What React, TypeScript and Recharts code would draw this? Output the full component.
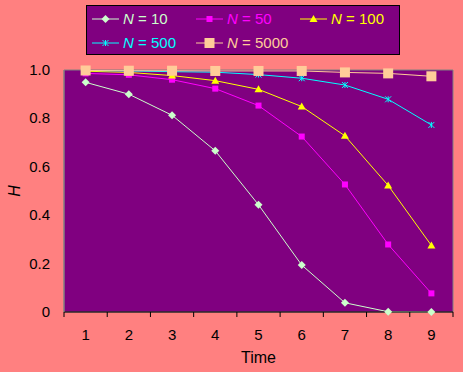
import React from 'react';
import { LineChart, Line, XAxis, YAxis, CartesianGrid, ReferenceArea, Legend } from 'recharts';

const times = [1, 2, 3, 4, 5, 6, 7, 8, 9];
const n10 = [0.949, 0.9, 0.813, 0.666, 0.443, 0.194, 0.038, 0.001, 0.0];
const n50 = [0.986, 0.98, 0.96, 0.923, 0.853, 0.725, 0.527, 0.279, 0.077];
const n100 = [0.995, 0.99, 0.977, 0.956, 0.92, 0.849, 0.728, 0.523, 0.275];
const n500 = [0.998, 0.996, 0.993, 0.991, 0.981, 0.966, 0.938, 0.879, 0.773];
const n5000 = [0.998, 0.997, 0.997, 0.996, 0.996, 0.996, 0.99, 0.986, 0.974];
const yTicks = [0, 0.2, 0.4, 0.6, 0.8, 1.0];
const xTicks = [0.5, 1, 1.5, 2, 2.5, 3, 3.5, 4, 4.5, 5, 5.5, 6, 6.5, 7, 7.5, 8, 8.5, 9, 9.5];

const series = [
  { key: 'n10', label: '10', color: '#CCFFCC', shape: 'diamond' },
  { key: 'n50', label: '50', color: '#FF00FF', shape: 'square' },
  { key: 'n100', label: '100', color: '#FFFF00', shape: 'triangle' },
  { key: 'n500', label: '500', color: '#00FFFF', shape: 'star' },
  { key: 'n5000', label: '5000', color: '#FFCC99', shape: 'bigsquare' },
];

const data = times.map((t, i) => ({
  t,
  n10: n10[i],
  n50: n50[i],
  n100: n100[i],
  n500: n500[i],
  n5000: n5000[i],
}));

const FONT = '"Liberation Sans", Arial, sans-serif';

function Marker({ shape, cx, cy, color }: { shape: string; cx: number; cy: number; color: string }) {
  if (shape === 'diamond') {
    return <polygon points={`${cx},${cy - 4} ${cx + 4},${cy} ${cx},${cy + 4} ${cx - 4},${cy}`} fill={color} />;
  }
  if (shape === 'square') {
    return <rect x={cx - 3} y={cy - 3} width={6} height={6} fill={color} />;
  }
  if (shape === 'triangle') {
    return <polygon points={`${cx},${cy - 4} ${cx + 4},${cy + 3} ${cx - 4},${cy + 3}`} fill={color} />;
  }
  if (shape === 'star') {
    return (
      <g stroke={color} strokeWidth={1}>
        <line x1={cx - 3} y1={cy - 3} x2={cx + 3} y2={cy + 3} />
        <line x1={cx - 3} y1={cy + 3} x2={cx + 3} y2={cy - 3} />
        <line x1={cx} y1={cy - 3} x2={cx} y2={cy + 3} />
      </g>
    );
  }
  return <rect x={cx - 5} y={cy - 5} width={10} height={10} fill={color} />;
}

const XTick = (props: any) => {
  const { x, y, payload } = props;
  const v = payload.value;
  if (Number.isInteger(v)) {
    return (
      <text x={x} y={y + 28} textAnchor="middle" fill="#000" fontSize={15} fontFamily={FONT}>
        {v}
      </text>
    );
  }
  return <line x1={x} y1={y} x2={x} y2={y + 5} stroke="#000" strokeWidth={1} />;
};

const YTick = (props: any) => {
  const { x, y, payload } = props;
  const v = payload.value;
  return (
    <text x={x - 14} y={y + 5} textAnchor="end" fill="#000" fontSize={15} fontFamily={FONT}>
      {v === 0 ? '0' : v.toFixed(1)}
    </text>
  );
};

const renderLegend = () => (
  <div
    style={{
      width: 314,
      height: 50,
      background: '#800080',
      border: '1px solid #000',
      boxSizing: 'border-box',
      position: 'relative',
      fontFamily: FONT,
      fontSize: 15,
    }}
  >
    {series.map((s, i) => {
      const col = i % 3;
      const row = Math.floor(i / 3);
      return (
        <div
          key={s.key}
          style={{
            position: 'absolute',
            left: [5, 109, 213][col],
            top: 5 + row * 24,
            height: 16,
            display: 'flex',
            alignItems: 'center',
            whiteSpace: 'nowrap',
            color: s.color,
          }}
        >
          <svg width={27} height={16} style={{ display: 'block' }}>
            <line x1={0} y1={8} x2={27} y2={8} stroke={s.color} strokeWidth={1} />
            <Marker shape={s.shape} cx={13.5} cy={8} color={s.color} />
          </svg>
          <span style={{ marginLeft: 4, lineHeight: '16px' }}>
            <i>N</i> = {s.label}
          </span>
        </div>
      );
    })}
  </div>
);

export default function App() {
  return (
    <div style={{ position: 'absolute', left: 0, top: 0, width: 463, height: 372, background: '#FF8080' }}>
      <LineChart width={463} height={372} data={data} margin={{ top: 70, right: 10, bottom: 4, left: 0 }}>
        <CartesianGrid horizontal={false} vertical={false} fill="#800080" />
        <ReferenceArea x1={0.5} x2={9.5} y1={0} y2={1} fill="none" stroke="#808080" strokeWidth={1} fillOpacity={0} />
        <XAxis
          dataKey="t"
          type="number"
          domain={[0.5, 9.5]}
          ticks={xTicks}
          interval={0}
          tick={<XTick />}
          tickLine={false}
          tickSize={0}
          tickMargin={0}
          axisLine={{ stroke: '#000', strokeWidth: 1 }}
          height={56}
          label={{ value: 'Time', position: 'insideBottom', offset: 5, fill: '#000', fontSize: 16, fontFamily: FONT }}
        />
        <YAxis
          type="number"
          domain={[0, 1]}
          ticks={yTicks}
          interval={0}
          width={64}
          tick={<YTick />}
          tickLine={false}
          tickSize={0}
          tickMargin={0}
          axisLine={{ stroke: '#808080', strokeWidth: 1 }}
          label={(p: any) => {
            const vb = p.viewBox || { x: 0, y: 70, width: 64, height: 242 };
            const cy = vb.y + vb.height / 2;
            return (
              <text
                x={14}
                y={cy}
                transform={`rotate(-90, 14, ${cy})`}
                textAnchor="middle"
                dominantBaseline="central"
                fontStyle="italic"
                fontSize={16}
                fontFamily={FONT}
                fill="#000"
              >
                H
              </text>
            );
          }}
        />
        <Legend
          verticalAlign="middle"
          align="center"
          layout="horizontal"
          content={renderLegend}
          wrapperStyle={{ position: 'absolute', left: 86, top: 5, width: 314, height: 50 }}
        />
        {series.map((s) => (
          <Line
            key={s.key}
            dataKey={s.key}
            stroke={s.color}
            strokeWidth={1}
            type="linear"
            isAnimationActive={false}
            activeDot={false}
            dot={(p: any) => (
              <Marker key={`${s.key}-${p.index}`} shape={s.shape} cx={p.cx} cy={p.cy} color={s.color} />
            )}
          />
        ))}
      </LineChart>
    </div>
  );
}
